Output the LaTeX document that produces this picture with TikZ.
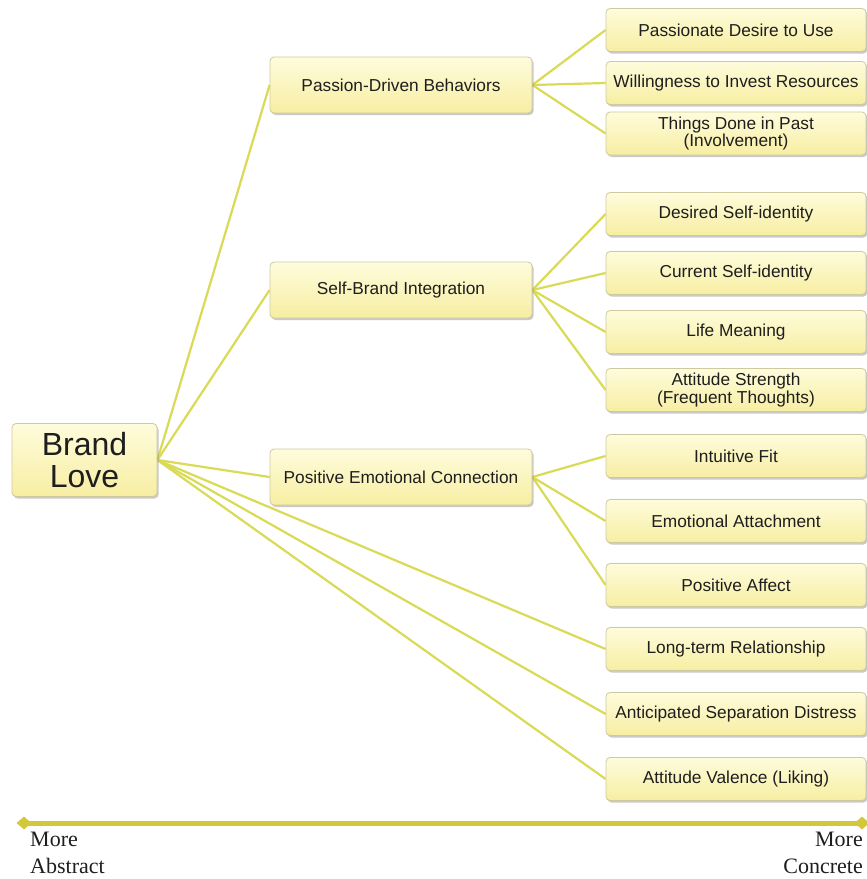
\documentclass[tikz,border=0pt]{standalone}
\usepackage{fontspec}
\setmainfont{Liberation Sans}
\newfontfamily\serifaxis{Liberation Serif}
\usetikzlibrary{shadows,shapes.geometric,backgrounds}
\definecolor{boxtop}{HTML}{FEFCDC}
\definecolor{boxbot}{HTML}{F7EEA2}
\definecolor{boxline}{HTML}{CFC9A0}
\definecolor{linkc}{HTML}{D9DA55}
\definecolor{axisc}{HTML}{D2C83A}
\definecolor{txt}{HTML}{1E1E1E}
\tikzset{
  x=1pt,y=-1pt,
  basebox/.style={draw=boxline, line width=0.8pt, rounded corners=4pt,
    top color=boxtop, bottom color=boxbot, align=center, inner sep=0pt, text=txt,
    drop shadow={shadow xshift=1.5pt, shadow yshift=-2pt, opacity=0.35, fill=black!60}},
  rbox/.style={basebox, minimum width=260pt, minimum height=43pt,
    font=\fontsize{17.3}{15}\selectfont},
  mbox/.style={basebox, minimum width=262pt, minimum height=56pt,
    font=\fontsize{17.3}{15}\selectfont},
  bigbox/.style={basebox, minimum width=145pt, minimum height=73pt,
    font=\fontsize{32}{32}\selectfont},
  link/.style={draw=linkc, line width=2.2pt},
  axislbl/.style={font=\serifaxis\fontsize{22}{27}\selectfont, inner sep=0pt, text=txt}
}
\begin{document}
\begin{tikzpicture}
\useasboundingbox (0,0) rectangle (867,879);
\node[bigbox] (bl) at (84.5,460) {Brand\\Love};
\node[mbox] (pdb) at (401,85) {Passion-Driven Behaviors};
\node[mbox] (sbi) at (401,290) {Self-Brand Integration};
\node[mbox] (pec) at (401,477) {Positive Emotional Connection};
\node[rbox] (r1) at (736,30) {Passionate Desire to Use};
\node[rbox] (r2) at (736,83) {Willingness to Invest Resources};
\node[rbox] (r3) at (736,133.5) {Things Done in Past\\(Involvement)};
\node[rbox] (r4) at (736,214) {Desired Self-identity};
\node[rbox] (r5) at (736,273) {Current Self-identity};
\node[rbox] (r6) at (736,332) {Life Meaning};
\node[rbox] (r7) at (736,390) {Attitude Strength\\(Frequent Thoughts)};
\node[rbox] (r8) at (736,456) {Intuitive Fit};
\node[rbox] (r9) at (736,521) {Emotional Attachment};
\node[rbox] (r10) at (736,585) {Positive Affect};
\node[rbox] (r11) at (736,649) {Long-term Relationship};
\node[rbox] (r12) at (736,714) {Anticipated Separation Distress};
\node[rbox] (r13) at (736,779) {Attitude Valence (Liking)};
\begin{scope}[on background layer]
\foreach \t in {pdb,sbi,pec,r11,r12,r13} \draw[link] (bl.east) -- (\t.west);
\foreach \t in {r1,r2,r3} \draw[link] (pdb.east) -- (\t.west);
\foreach \t in {r4,r5,r6,r7} \draw[link] (sbi.east) -- (\t.west);
\foreach \t in {r8,r9,r10} \draw[link] (pec.east) -- (\t.west);
\end{scope}
% axis
\node[diamond, fill=axisc, inner sep=0pt, minimum width=15pt, minimum height=13pt] (al) at (24,823) {};
\node[diamond, fill=axisc, inner sep=0pt, minimum width=15pt, minimum height=13pt] (ar) at (862,823) {};
\draw[draw=axisc, line width=5pt] (al.center) -- (ar.center);
\node[axislbl, anchor=north west, align=left] (abs) at (30,832) {More\\Abstract};
\node[axislbl, anchor=north east, align=right] (con) at (863,832) {More\\Concrete};
\end{tikzpicture}
\end{document}
